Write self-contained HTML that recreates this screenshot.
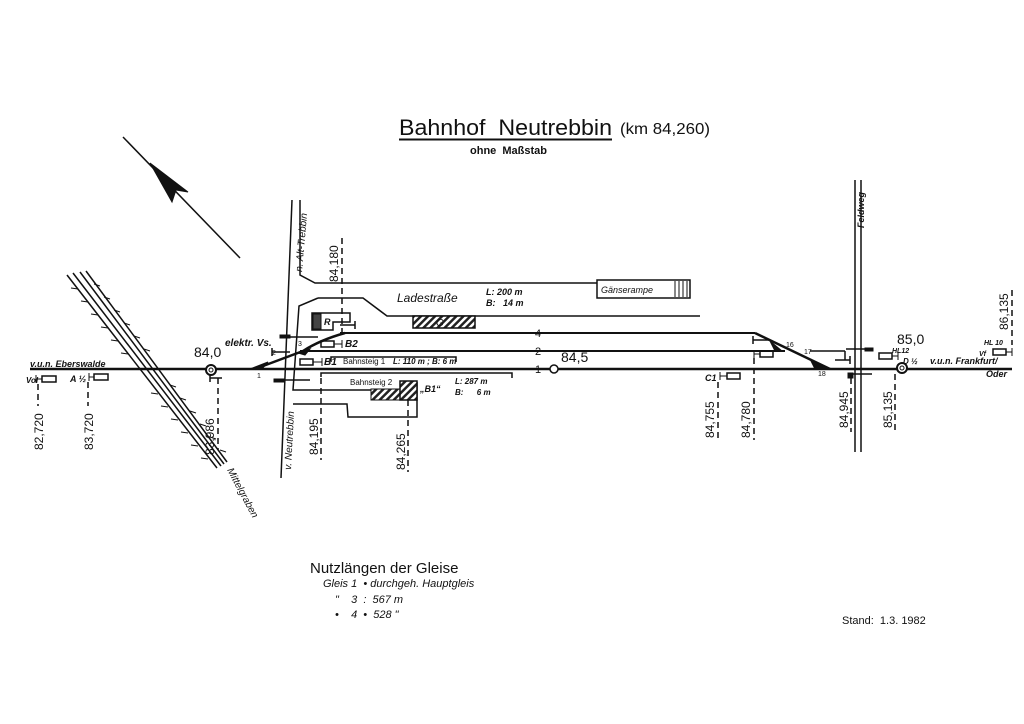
<!DOCTYPE html>
<html><head><meta charset="utf-8"><style>
html,body{margin:0;padding:0;background:#fff}
svg{display:block}
text{font-family:"Liberation Sans",sans-serif;fill:#111;white-space:pre}
.i{font-style:italic}
</style></head><body>
<svg width="1024" height="724" viewBox="0 0 1024 724" xmlns="http://www.w3.org/2000/svg" xml:space="preserve">
<defs>
<pattern id="h" width="5" height="5" patternUnits="userSpaceOnUse" patternTransform="rotate(45)">
<rect width="5" height="5" fill="#fff"/><rect width="2.5" height="5" fill="#222"/></pattern>
</defs>
<g stroke="#111" fill="none">
<line x1="399" y1="139.5" x2="612" y2="139.5" stroke-width="2"/>
<line x1="123" y1="137" x2="240" y2="258" stroke-width="1.5"/>
<path d="M150 163 L188 192 L176 190 L172 202 Z" fill="#111" stroke-width="1"/>
<line x1="30" y1="369" x2="1012" y2="369" stroke-width="2.5"/>
<line x1="300" y1="351" x2="785" y2="351" stroke-width="2"/>
<line x1="340" y1="333" x2="755" y2="333" stroke-width="2"/>
<path d="M255 369 L303 351 Q320 340 345 333" stroke-width="2.5"/>
<path d="M755 333 L830 369" stroke-width="2.5"/>
<line x1="810" y1="351" x2="845" y2="351" stroke-width="1.5"/>
<line x1="845" y1="351" x2="845" y2="360" stroke-width="1.5"/>
<path d="M250 369 L268 362 L262 369Z M298 353 L310 349 L305 355Z M770 341 L782 351 L775 351Z M810 359 L826 369 L815 369Z" fill="#111"/>
<line x1="292" y1="200" x2="281" y2="478" stroke-width="1.5"/>
<path d="M300 200 L300 275 L315 283 L690 283" stroke-width="1.5"/>
<path d="M318 298 L363 298 L387 316 L700 316" stroke-width="1.5"/>
<path d="M318 298 L299 306 L293 390 L417 390" stroke-width="1.5"/>
<path d="M293 404 L347 404 L348 417 L417 417 L417 382" stroke-width="1.5"/>
<rect x="597" y="280" width="93" height="18" stroke-width="1.5" fill="#fff"/>
<line x1="675" y1="281" x2="675" y2="297"/><line x1="679" y1="281" x2="679" y2="297"/><line x1="683" y1="281" x2="683" y2="297"/><line x1="687" y1="281" x2="687" y2="297"/>
<rect x="413" y="316" width="62" height="12" fill="url(#h)" stroke-width="1.5"/>
<path d="M312 313 L350 313 L350 322 L333 322 L333 330 L312 330 Z" stroke-width="1.5" fill="#fff"/>
<rect x="313" y="314" width="8" height="15" fill="#444"/>
<path d="M331 362 L331 357 L456 357 L456 362" stroke-width="1.5"/>
<path d="M321 377 L321 373 L512 373 L512 378" stroke-width="1.5"/>
<rect x="371" y="389" width="30" height="11" fill="url(#h)" stroke-width="1"/>
<rect x="400" y="381" width="17" height="19" fill="url(#h)" stroke-width="1.5"/>
<rect x="300" y="359" width="13" height="6" stroke-width="1.5"/><line x1="313" y1="362" x2="322" y2="362"/><line x1="322" y1="358" x2="322" y2="366"/>
<rect x="321" y="341" width="13" height="6" stroke-width="1.5"/><line x1="334" y1="344" x2="342" y2="344"/><line x1="342" y1="340" x2="342" y2="348"/>
<rect x="42" y="376" width="14" height="6" stroke-width="1.5"/><line x1="36" y1="379" x2="42" y2="379"/><line x1="36" y1="375" x2="36" y2="383"/>
<rect x="94" y="374" width="14" height="6" stroke-width="1.5"/><line x1="89" y1="377" x2="94" y2="377"/><line x1="89" y1="373" x2="89" y2="381"/>
<rect x="727" y="373" width="13" height="6" stroke-width="1.5"/><line x1="720" y1="376" x2="727" y2="376"/><line x1="720" y1="372" x2="720" y2="380"/>
<rect x="760" y="351" width="13" height="6" stroke-width="1.5"/><line x1="754" y1="354" x2="760" y2="354"/><line x1="754" y1="350" x2="754" y2="358"/>
<rect x="879" y="353" width="13" height="6" stroke-width="1.5"/><line x1="892" y1="356" x2="898" y2="356"/><line x1="898" y1="352" x2="898" y2="360"/>
<rect x="993" y="349" width="13" height="6" stroke-width="1.5"/><line x1="1006" y1="352" x2="1012" y2="352"/><line x1="1012" y1="348" x2="1012" y2="356"/>
<path d="M210 378 L222 378 M210 374 L210 382" stroke-width="1.5"/>
<path d="M753 340 L770 340 M753 336 L753 344" stroke-width="1.5"/>
<path d="M340 325 L355 325 M355 321 L355 329" stroke-width="1.5"/>
<path d="M272 348 L272 356 M272 352 L290 352" stroke-width="1.5"/>
<path d="M835 360 L850 360 M850 356 L850 364" stroke-width="1.5"/>
<line x1="280" y1="337" x2="318" y2="337" stroke-width="1.5"/><rect x="280" y="335" width="10" height="3" fill="#111"/>
<line x1="274" y1="380" x2="310" y2="380" stroke-width="1.5"/><rect x="274" y="379" width="10" height="3" fill="#111"/>
<line x1="846" y1="349" x2="872" y2="349" stroke-width="1.5"/><rect x="865" y="348" width="8" height="3" fill="#111"/>
<line x1="848" y1="374" x2="872" y2="374" stroke-width="1.5"/><rect x="848" y="373" width="5" height="5" fill="#111"/>
<line x1="855" y1="180" x2="855" y2="452" stroke-width="1.5"/>
<line x1="861" y1="180" x2="861" y2="452" stroke-width="1.5"/>
<circle cx="211" cy="370" r="5" stroke-width="2" fill="#fff"/><circle cx="211" cy="370" r="2" stroke-width="1"/>
<circle cx="554" cy="369" r="4" stroke-width="1.5" fill="#fff"/>
<circle cx="902" cy="368" r="5" stroke-width="2" fill="#fff"/><circle cx="902" cy="368" r="2" stroke-width="1"/>
<g stroke-dasharray="6 4" stroke-width="1.5">
<line x1="38" y1="384" x2="38" y2="406"/>
<line x1="88" y1="382" x2="88" y2="406"/>
<line x1="218" y1="378" x2="218" y2="450"/>
<line x1="342" y1="238" x2="342" y2="333"/>
<line x1="321" y1="378" x2="321" y2="460"/>
<line x1="408" y1="400" x2="408" y2="472"/>
<line x1="718" y1="382" x2="718" y2="440"/>
<line x1="754" y1="358" x2="754" y2="440"/>
<line x1="851" y1="378" x2="851" y2="432"/>
<line x1="895" y1="374" x2="895" y2="432"/>
<line x1="1012" y1="290" x2="1012" y2="345"/>
</g>
<line x1="67" y1="275" x2="217" y2="468" stroke-width="1.5"/>
<line x1="73" y1="273" x2="221" y2="466" stroke-width="1.5"/>
<line x1="80" y1="272" x2="224" y2="464" stroke-width="1.5"/>
<line x1="86" y1="271" x2="227" y2="462" stroke-width="1.5"/>
<g stroke-width="1">
<path d="M78 289 l-7 -1 M88 302 l-7 -1 M98 315 l-7 -1 M108 328 l-7 -1 M118 341 l-7 -1 M128 354 l-7 -1 M158 394 l-7 -1 M168 407 l-7 -1 M178 420 l-7 -1 M188 433 l-7 -1 M198 446 l-7 -1 M208 459 l-7 -1"/>
<path d="M94 284 l6 2 M104 297 l6 2 M114 310 l6 2 M124 323 l6 2 M134 336 l6 2 M144 349 l6 2 M170 385 l6 2 M180 398 l6 2 M190 411 l6 2 M200 424 l6 2 M210 437 l6 2 M220 450 l6 2"/>
</g>
</g>
<text x="399" y="135" font-size="22" textLength="213" lengthAdjust="spacingAndGlyphs">Bahnhof  Neutrebbin</text>
<text x="620" y="134" font-size="16" textLength="90" lengthAdjust="spacingAndGlyphs">(km 84,260)</text>
<text x="470" y="154" font-size="11" font-weight="bold">ohne  Maßstab</text>
<text x="397" y="302" font-size="12" class="i">Ladestraße</text>
<text x="486" y="295" font-size="9" class="i" font-weight="bold">L: 200 m</text>
<text x="486" y="306" font-size="9" class="i" font-weight="bold">B:   14 m</text>
<text x="601" y="293" font-size="9" class="i">Gänserampe</text>
<text x="436" y="326" font-size="10" fill="#fff" class="i">G</text>
<text x="324" y="325" font-size="9" class="i" font-weight="bold">R</text>
<text x="225" y="346" font-size="10" class="i" font-weight="bold">elektr. Vs.</text>
<text x="194" y="357" font-size="14">84,0</text>
<text x="561" y="362" font-size="14">84,5</text>
<text x="897" y="344" font-size="14">85,0</text>
<text x="272" y="355" font-size="7">2</text>
<text x="298" y="346" font-size="7">3</text>
<text x="257" y="378" font-size="7">1</text>
<text x="786" y="347" font-size="7">16</text>
<text x="804" y="354" font-size="7">17</text>
<text x="818" y="376" font-size="7">18</text>
<text x="535" y="337" font-size="11">4</text>
<text x="535" y="355" font-size="11">2</text>
<text x="535" y="373" font-size="11">1</text>
<text x="345" y="347" font-size="10" class="i" font-weight="bold">B2</text>
<text x="324" y="365" font-size="10" class="i" font-weight="bold">B1</text>
<text x="343" y="364" font-size="8">Bahnsteig 1</text>
<text x="393" y="364" font-size="8" class="i" font-weight="bold">L: 110 m ; B: 6 m</text>
<text x="350" y="385" font-size="8">Bahnsteig 2</text>
<text x="455" y="384" font-size="8" class="i" font-weight="bold">L: 287 m</text>
<text x="455" y="395" font-size="8" class="i" font-weight="bold">B:      6 m</text>
<text x="420" y="392" font-size="9" class="i" font-weight="bold">„B1“</text>
<text x="30" y="367" font-size="9" class="i" font-weight="bold">v.u.n. Eberswalde</text>
<text x="26" y="383" font-size="8" class="i" font-weight="bold">Vol</text>
<text x="70" y="382" font-size="9" class="i" font-weight="bold">A ½</text>
<text x="705" y="381" font-size="9" class="i" font-weight="bold">C1</text>
<text x="892" y="353" font-size="7" class="i" font-weight="bold">HL12</text>
<text x="903" y="364" font-size="8" class="i" font-weight="bold">D ½</text>
<text x="930" y="364" font-size="9" class="i" font-weight="bold">v.u.n. Frankfurt/</text>
<text x="986" y="377" font-size="9" class="i" font-weight="bold">Oder</text>
<text x="984" y="345" font-size="7" class="i" font-weight="bold">HL 10</text>
<text x="979" y="356" font-size="7" class="i" font-weight="bold">Vf</text>
<g font-size="12">
<text transform="translate(43,450) rotate(-90)">82,720</text>
<text transform="translate(93,450) rotate(-90)">83,720</text>
<text transform="translate(214,455) rotate(-90)">83,986</text>
<text transform="translate(338,282) rotate(-90)">84,180</text>
<text transform="translate(318,455) rotate(-90)">84,195</text>
<text transform="translate(405,470) rotate(-90)">84,265</text>
<text transform="translate(714,438) rotate(-90)">84,755</text>
<text transform="translate(750,438) rotate(-90)">84,780</text>
<text transform="translate(848,428) rotate(-90)">84,945</text>
<text transform="translate(892,428) rotate(-90)">85,135</text>
<text transform="translate(1008,330) rotate(-90)">86,135</text>
</g>
<text transform="translate(302,272) rotate(-85)" font-size="10" class="i">n. Alt-Trebbin</text>
<text transform="translate(291,470) rotate(-87)" font-size="10" class="i">v. Neutrebbin</text>
<text transform="translate(864,228) rotate(-90)" font-size="9" class="i" font-weight="bold">Feldweg</text>
<text transform="translate(227,470) rotate(62)" font-size="10" class="i">Mittelgraben</text>
<text x="310" y="573" font-size="15">Nutzlängen der Gleise</text>
<text x="323" y="587" font-size="11" class="i">Gleis 1  • durchgeh. Hauptgleis</text>
<text x="335" y="603" font-size="11" class="i">"    3  :  567 m</text>
<text x="335" y="618" font-size="11" class="i">•    4  •  528 "</text>
<text x="842" y="624" font-size="11">Stand:  1.3. 1982</text>
</svg>
</body></html>
